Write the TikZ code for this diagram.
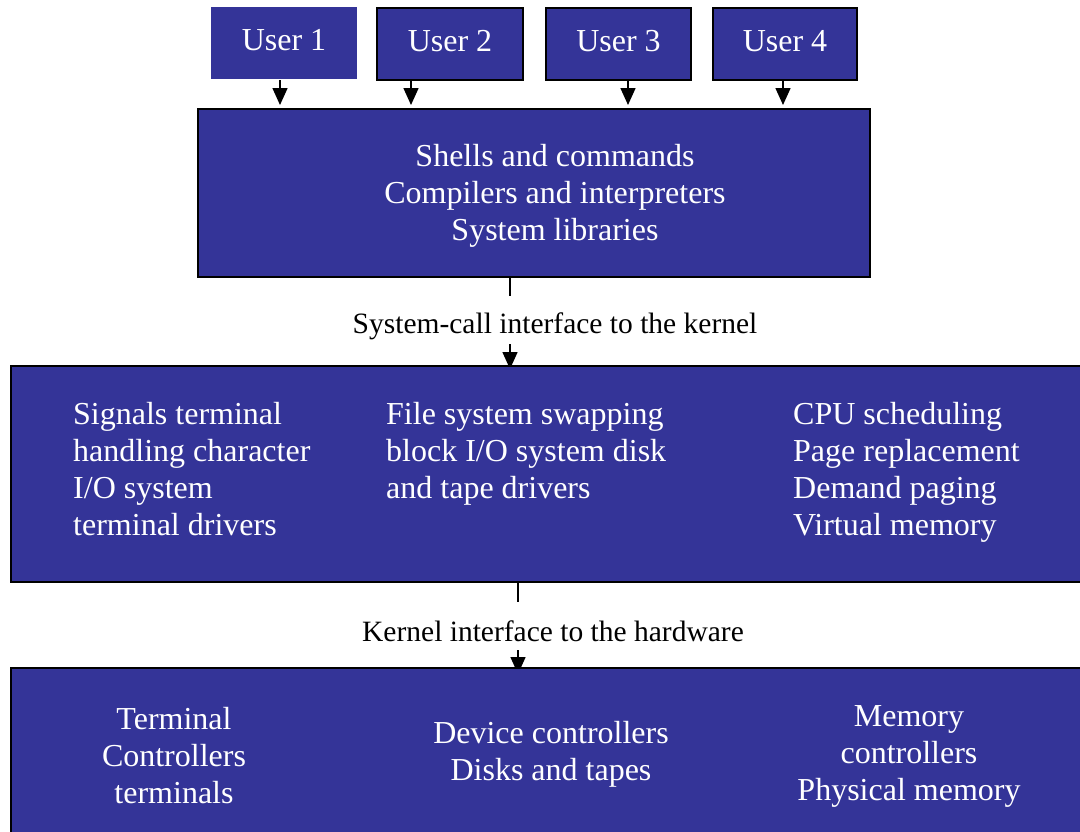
\documentclass[tikz,border=0pt]{standalone}
\usepackage{fontspec}
\setmainfont{Liberation Serif}
\usetikzlibrary{arrows.meta}
\definecolor{layer}{RGB}{52,52,152}
\begin{document}
\begin{tikzpicture}[x=1pt,y=-1pt,
  layerbox/.style={fill=layer,draw=black,line width=2.5pt},
  boxtext/.style={text=white,inner sep=0pt,font=\fontsize{32}{37}\selectfont},
  iftext/.style={text=black,inner sep=0pt,font=\fontsize{29.5}{34}\selectfont},
  link/.style={line width=1.5pt,-{Triangle[length=17pt,width=15pt]}},
  stub/.style={line width=1.5pt}]
\useasboundingbox (0,0) rectangle (1080,831);
\clip (0,0) rectangle (1080,831);

% user processes
\fill[layer] (211,7) rectangle (357,79);
\coordinate (u1) at (284,40);
\node[boxtext] at (u1) {User 1};
\draw[layerbox] (377,8) rectangle (523,80);
\node[boxtext] (u2) at (450,41) {User 2};
\draw[layerbox] (546,8) rectangle (691,80);
\node[boxtext] (u3) at (618.5,41) {User 3};
\draw[layerbox] (713,8) rectangle (857,80);
\node[boxtext] (u4) at (785,41) {User 4};

% user-level programs
\draw[layerbox] (198,109) rectangle (870,277);
\node[boxtext,align=center] (shells) at (555,196)
  {Shells and commands\\Compilers and interpreters\\System libraries};

\coordinate (a1s) at (280,80);  \coordinate (a1e) at (280,105);
\coordinate (a2s) at (411,80);  \coordinate (a2e) at (411,105);
\coordinate (a3s) at (628,80);  \coordinate (a3e) at (628,105);
\coordinate (a4s) at (783,80);  \coordinate (a4e) at (783,105);
\draw[link] (a1s) -- (a1e);
\draw[link] (a2s) -- (a2e);
\draw[link] (a3s) -- (a3e);
\draw[link] (a4s) -- (a4e);

% system-call interface
\node[iftext] (sci) at (555,326) {System-call interface to the kernel};
\coordinate (s1) at (510,277); \coordinate (s2) at (510,296);
\coordinate (s3) at (510,344); \coordinate (s4) at (510,369);
\draw[stub] (s1) -- (s2);
\draw[link] (s3) -- (s4);

% kernel
\draw[layerbox] (11,366) rectangle (1095,582);
\node[boxtext,align=left,anchor=west] (k1) at (73,469)
  {Signals terminal\\handling character\\I/O system\\terminal drivers};
\node[boxtext,align=left,anchor=west] (k2) at (386,454)
  {File system swapping\\block I/O system disk\\and tape drivers};
\node[boxtext,align=left,anchor=west] (k3) at (793,472)
  {CPU scheduling\\Page replacement\\Demand paging\\Virtual memory};

% kernel interface to the hardware
\node[iftext] (khi) at (553,631) {Kernel interface to the hardware};
\coordinate (h1) at (518,582); \coordinate (h2) at (518,602);
\coordinate (h3) at (518,650); \coordinate (h4) at (518,674);
\draw[stub] (h1) -- (h2);
\draw[link] (h3) -- (h4);

% hardware
\draw[layerbox] (11,668) rectangle (1095,850);
\node[boxtext,align=center] (hw1) at (174,756) {Terminal\\Controllers\\terminals};
\node[boxtext,align=center] (hw2) at (551,754) {Device controllers\\Disks and tapes};
\node[boxtext,align=center] (hw3) at (909,756) {Memory\\controllers\\Physical memory};
\end{tikzpicture}
\end{document}
